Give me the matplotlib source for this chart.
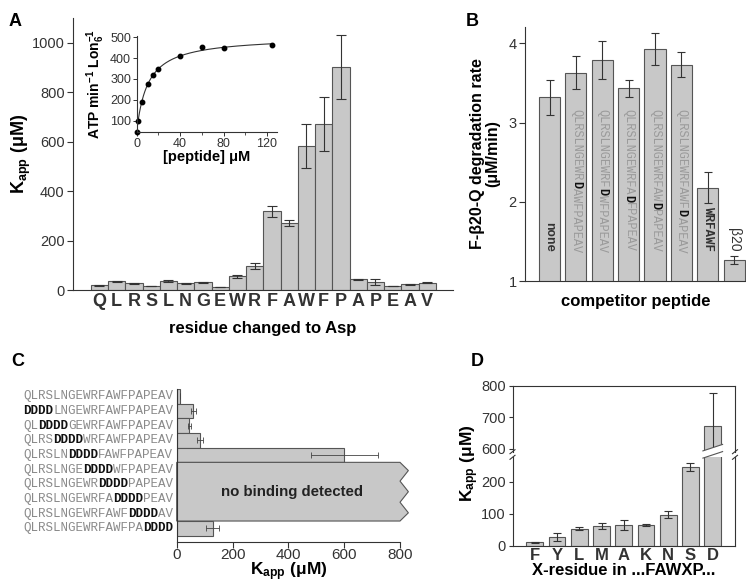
import numpy as np
import matplotlib.pyplot as plt
from matplotlib.patches import Polygon
from matplotlib.lines import Line2D

plt.rcParams['font.family'] = ['Liberation Sans', 'DejaVu Sans']
plt.rcParams['mathtext.fontset'] = 'custom'
plt.rcParams['mathtext.rm'] = 'Liberation Sans'
plt.rcParams['mathtext.bf'] = 'Liberation Sans:bold'
plt.rcParams['mathtext.it'] = 'Liberation Sans:italic'
plt.rcParams['axes.linewidth'] = 0.8
plt.rcParams['axes.edgecolor'] = '#333333'
plt.rcParams['xtick.color'] = '#333333'
plt.rcParams['ytick.color'] = '#333333'

# ---- data ----
# A: Asp scan
res_a = list("QLRSLNGEWRFAWFPAPEAV")
kapp_a = [20, 35, 27, 17, 37, 28, 31, 12, 55, 97, 318, 272, 582, 672, 902, 43, 33, 17, 23, 29]
err_a = [2, 3, 2, 1, 3, 2, 3, 1, 6, 14, 21, 12, 88, 108, 128, 3, 12, 1, 2, 2]
# inset: ATPase vs peptide
pep_conc = [0, 1, 5, 10, 15, 20, 40, 60, 80, 125]
atp_rate = [44, 100, 187, 274, 318, 350, 409, 451, 447, 462]
# B: competitor peptides
wt = "QLRSLNGEWRFAWFPAPEAV"
comp_labels = ["none", "QLRSLNGEWRDAWFPAPEAV", "QLRSLNGEWRFDWFPAPEAV", "QLRSLNGEWRFADFPAPEAV",
               "QLRSLNGEWRFAWDPAPEAV", "QLRSLNGEWRFAWFDAPEAV", "WRFAWF", "\u03b220"]
deg_rate = [3.32, 3.63, 3.79, 3.43, 3.93, 3.73, 2.18, 1.27]
deg_err = [0.22, 0.21, 0.24, 0.11, 0.20, 0.16, 0.20, 0.05]
# C: DDDD scan
seq_c = ["QLRSLNGEWRFAWFPAPEAV", "DDDDLNGEWRFAWFPAPEAV", "QLDDDDGEWRFAWFPAPEAV",
         "QLRSDDDDWRFAWFPAPEAV", "QLRSLNDDDDFAWFPAPEAV", "QLRSLNGEDDDDWFPAPEAV",
         "QLRSLNGEWRDDDDPAPEAV", "QLRSLNGEWRFADDDDPEAV", "QLRSLNGEWRFAWFDDDDAV",
         "QLRSLNGEWRFAWFPADDDD"]
kapp_c = [12, 60, 45, 84, 600, np.nan, np.nan, np.nan, np.nan, 129]
err_c = [1, 8, 6, 10, 120, np.nan, np.nan, np.nan, np.nan, 24]
# D: X-residue
res_d = list("FYLMAKNSD")
kapp_d = [10, 28, 53, 62, 65, 65, 97, 245, 672]
err_d = [1, 12, 4, 9, 15, 4, 10, 12, 105]

W, H = 746, 585
BAR = '#c8c8c8'
EDGE = '#555555'
ERR = dict(elinewidth=0.8, capthick=0.8, ecolor='#333333')
MONO = 'Liberation Mono'


def rect(x0, y0, x1, y1):
    return [x0 / W, 1 - y1 / H, (x1 - x0) / W, (y1 - y0) / H]


def split_seq(s, ref):
    # runs of (start, text, mutated?)
    runs = []
    k = 0
    while k < len(s):
        mut = s[k] != ref[k]
        st = k
        while k < len(s) and (s[k] != ref[k]) == mut:
            k += 1
        runs.append((st, s[st:k], mut))
    return runs


fig = plt.figure(figsize=(W / 100, H / 100), dpi=100)

# ---------------- A ----------------
axA = fig.add_axes(rect(73, 18, 453, 290))
xa = np.arange(len(res_a))
axA.bar(xa, kapp_a, width=1.0, color=BAR, edgecolor=EDGE, lw=0.8,
        yerr=err_a, capsize=3.5, error_kw=ERR)
axA.set_xlim(-1.53, 20.5)
axA.set_ylim(0, 1100)
axA.set_yticks(range(0, 1001, 200))
axA.set_xticks(xa, res_a, fontweight='bold', fontsize=13)
axA.tick_params(axis='x', length=0, pad=2)
axA.tick_params(axis='y', labelsize=10.5, length=4, width=0.8, pad=2)
for s in ['top', 'right']:
    axA.spines[s].set_visible(False)
axA.set_xlabel('residue changed to Asp', fontsize=12, fontweight='bold', labelpad=8)
axA.set_ylabel(r'$\mathbf{K_{app}}$ (μM)', fontsize=13, fontweight='bold', labelpad=-1)
fig.text(15 / W, 1 - 22 / H, 'A', fontsize=13, fontweight='bold', va='center', ha='center')

# inset
axI = fig.add_axes(rect(136.7, 36, 276.7, 132.3))
axI.set_facecolor('none')
px = np.array(pep_conc, float)
py = np.array(atp_rate, float)
# hyperbolic fit (basal + Vmax*x/(K+x)) by scanning K
best = None
for K in np.linspace(1, 50, 981):
    A = np.column_stack([np.ones_like(px), px / (K + px)])
    coef, res, _, _ = np.linalg.lstsq(A, py, rcond=None)
    ss = np.sum((A @ coef - py) ** 2)
    if best is None or ss < best[0]:
        best = (ss, K, coef)
_, Kf, (v0, vmax) = best
xs = np.linspace(0, max(pep_conc), 300)
axI.plot(xs, v0 + vmax * xs / (Kf + xs), color='#333333', lw=0.8)
axI.plot(px, py, 'o', color='black', ms=3.2, clip_on=False)
axI.set_xlim(0, 129)
axI.set_ylim(44, 506)
axI.set_xticks([0, 40, 80, 120])
axI.set_xticks([20, 60, 100], minor=True)
axI.set_yticks([100, 200, 300, 400, 500])
axI.tick_params(labelsize=9, length=3, width=0.7, pad=1)
axI.tick_params(which='minor', length=2, width=0.6)
for s in ['top', 'right']:
    axI.spines[s].set_visible(False)
axI.set_xlabel('[peptide] μM', fontsize=10.5, fontweight='bold', labelpad=0)
axI.set_ylabel(r'ATP min$^{\mathbf{-1}}$ Lon$_{\mathbf{6}}^{\mathbf{-1}}$', fontsize=10,
               fontweight='bold', labelpad=2)

# ---------------- B ----------------
axB = fig.add_axes(rect(525, 26.7, 746, 281))
xb = np.arange(len(deg_rate))
axB.bar(xb, deg_rate, width=0.8, color=BAR, edgecolor=EDGE, lw=0.8,
        yerr=deg_err, capsize=3, error_kw=ERR)
axB.set_xlim(-0.93, 7.45)
axB.set_ylim(1, 4.21)
axB.set_yticks([1, 2, 3, 4])
axB.set_xticks([])
axB.tick_params(axis='y', labelsize=10.5, length=4, width=0.8, pad=2)
for s in ['top', 'right']:
    axB.spines[s].set_visible(False)
axB.set_xlabel('competitor peptide', fontsize=12, fontweight='bold', labelpad=9)
axB.set_ylabel('F-β20-Q degradation rate\n(μM/min)', fontsize=11.5, fontweight='bold',
               labelpad=6, linespacing=1.0)
fig.text(472 / W, 1 - 22 / H, 'B', fontsize=13, fontweight='bold', va='center', ha='center')

fs_seq = 8.6
cw = 0.6 * fs_seq
base_b = 1.36
for i, lab in enumerate(comp_labels):
    if lab.startswith('\u03b2'):
        axB.annotate(lab, xy=(i, deg_rate[i] + deg_err[i]), xytext=(0, 3),
                     textcoords='offset points', rotation=-90, ha='center', va='bottom',
                     fontsize=10, color='#333333')
    elif len(lab) == len(wt):
        n = len(lab)
        for st, txt, mut in split_seq(lab, wt):
            axB.annotate(txt, xy=(i, base_b), xytext=(0, (n - st) * cw),
                         textcoords='offset points', rotation=-90, rotation_mode='anchor',
                         ha='left', va='center', fontsize=fs_seq, family=MONO,
                         color='#111111' if mut else '#9a9a9a',
                         fontweight='bold' if mut else 'normal')
    else:
        axB.annotate(lab, xy=(i, base_b), xytext=(0, 0), textcoords='offset points',
                     rotation=-90, rotation_mode='anchor', ha='right', va='center',
                     fontsize=fs_seq + 0.4, family=MONO, color='#333333', fontweight='bold')

# ---------------- C ----------------
axC = fig.add_axes(rect(176.7, 389, 400, 542))
nr = len(seq_c)
yc = np.arange(nr)[::-1]
axC.barh(yc, kapp_c, height=1.0, color=BAR, edgecolor=EDGE, lw=0.8,
         xerr=err_c, capsize=2.5, error_kw=dict(elinewidth=0.6, capthick=0.6, ecolor='#444444'))
xmax_c = 800
axC.set_xlim(0, xmax_c)
axC.set_ylim(-0.93, nr - 0.5)
axC.set_xticks(range(0, 801, 200))
axC.set_yticks([])
axC.tick_params(axis='x', labelsize=11, length=4, width=0.8, pad=0)
for s in ['top', 'right']:
    axC.spines[s].set_visible(False)
axC.set_xlabel(r'$\mathbf{K_{app}}$ (μM)', fontsize=12.5, fontweight='bold', labelpad=-1)
fig.text(18 / W, 1 - 362 / H, 'C', fontsize=13, fontweight='bold', va='center', ha='center')

# no-binding block
nb = [yc[i] for i in range(nr) if np.isnan(kapp_c[i])]
ytop, ybot = max(nb) + 0.5, min(nb) - 0.5
t = np.array([0, 0.14, 0.32, 0.5, 0.68, 0.86, 1.0])
zig_x = np.array([0, 1, 0, 1, 0, 1, 0]) * 30 + xmax_c
zig_y = ytop - t * (ytop - ybot)
verts = [(0, ytop)] + list(zip(zig_x, zig_y)) + [(0, ybot)]
axC.add_patch(Polygon(verts, closed=True, facecolor=BAR, edgecolor=EDGE, lw=0.8, clip_on=False))
axC.text(0.515 * xmax_c, (ytop + ybot) / 2, 'no binding detected', fontsize=10.8,
         fontweight='bold', ha='center', va='center', color='#222222')

fs_c = 9.0
cwc = 0.6 * fs_c
for i, s in enumerate(seq_c):
    n = len(s)
    x0 = -n * cwc - 2.5
    for st, txt, mut in split_seq(s, wt):
        axC.annotate(txt, xy=(0, yc[i]), xycoords=('axes fraction', 'data'),
                     xytext=(x0 + st * cwc, 0), textcoords='offset points', ha='left',
                     va='center', fontsize=fs_c, family=MONO,
                     color='#111111' if mut else '#8a8a8a',
                     fontweight='bold' if mut else 'normal')

# ---------------- D ----------------
axDt = fig.add_axes(rect(512.5, 385.7, 735, 451.7))
axDb = fig.add_axes(rect(512.5, 457.3, 735, 545.7))
xd = np.arange(len(res_d))
wd = 0.75
for ax in (axDt, axDb):
    ax.bar(xd, kapp_d, width=wd, color=BAR, edgecolor=EDGE, lw=0.8,
           yerr=err_d, capsize=3, error_kw=ERR)
    ax.set_xlim(-1.0, 9.0)
    ax.tick_params(axis='y', labelsize=10.5, length=3, width=0.8, pad=2)
axDt.set_ylim(591, 800)
axDt.set_yticks([600, 700, 800])
axDt.set_xticks([])
axDt.spines['bottom'].set_visible(False)
axDb.set_ylim(0, 276)
axDb.set_yticks([0, 100, 200])
axDb.spines['top'].set_visible(False)
axDb.set_xticks(xd, res_d, fontweight='bold', fontsize=12)
axDb.tick_params(axis='x', length=0, pad=2)
axDb.set_xlabel('X-residue in ...FAWXP...', fontsize=12, fontweight='bold', labelpad=0)
fig.text(470 / W, 1 - 463 / H, r'$\mathbf{K_{app}}$ (μM)', fontsize=12.5, fontweight='bold',
         rotation=90, ha='center', va='center')
fig.text(477 / W, 1 - 362 / H, 'D', fontsize=13, fontweight='bold', va='center', ha='center')

# break on the tallest bar and on the side spines
inv = fig.transFigure.inverted()
bl = axDb.transData.transform((xd[-1] - wd / 2, 0))[0] - 1.5
br = axDb.transData.transform((xd[-1] + wd / 2, 0))[0] + 1.5
yc_gap = H - 454.5
slope = 6.5
half = 3.6
band = [(bl, yc_gap - half), (br, yc_gap - half + slope),
        (br, yc_gap + half + slope), (bl, yc_gap + half)]
band_f = [tuple(inv.transform(p)) for p in band]
fig.add_artist(Polygon(band_f, closed=True, facecolor='white', edgecolor='none',
                       transform=fig.transFigure, zorder=10))
for k in (0, 3):
    a, b = band_f[k], band_f[1 if k == 0 else 2]
    fig.add_artist(Line2D([a[0], b[0]], [a[1], b[1]], color=EDGE, lw=0.8,
                          transform=fig.transFigure, zorder=11))
for xs_ in (512.5, 735):
    for yy in (451.7, 457.3):
        p0 = inv.transform((xs_ - 2.5, H - yy - 2))
        p1 = inv.transform((xs_ + 2.5, H - yy + 2))
        fig.add_artist(Line2D([p0[0], p1[0]], [p0[1], p1[1]], color='#333333', lw=0.8,
                              transform=fig.transFigure, zorder=11))

fig.savefig('out.png', dpi=100)
